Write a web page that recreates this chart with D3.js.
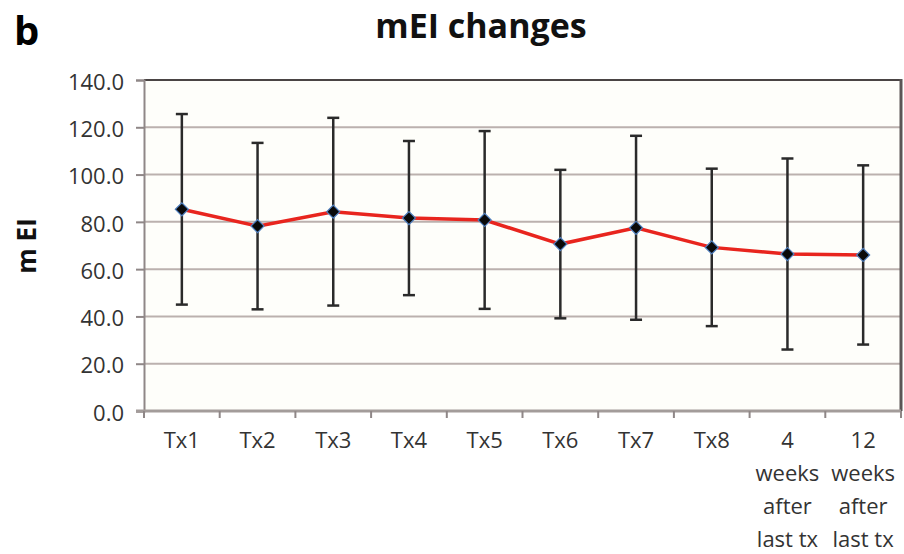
<!DOCTYPE html>
<html><head><meta charset="utf-8">
<script src="https://cdn.jsdelivr.net/npm/d3@7"></script>
<style>body{margin:0;background:#fff}svg{display:block}</style>
</head><body>
<svg id="c" width="904" height="554"></svg>
<script>
const categories = ["Tx1","Tx2","Tx3","Tx4","Tx5","Tx6","Tx7","Tx8","4 weeks after last tx","12 weeks after last tx"];
const labelLines = [["Tx1"],["Tx2"],["Tx3"],["Tx4"],["Tx5"],["Tx6"],["Tx7"],["Tx8"],["4","weeks","after","last tx"],["12","weeks","after","last tx"]];
const means = [85.3, 78.2, 84.3, 81.6, 80.8, 70.6, 77.5, 69.2, 66.4, 66.0];
const sds   = [40.3, 35.2, 39.7, 32.6, 37.6, 31.4, 38.9, 33.3, 40.4, 37.9];
const yTicks = [0, 20, 40, 60, 80, 100, 120, 140];
const title = "mEI changes";
const yLabel = "m EI";
const panel = "b";

const svg = d3.select("#c");
const L = 144, R = 901, T = 80, B = 411;
const font = "'Open Sans', 'Liberation Sans', sans-serif";

const x = d3.scaleBand().domain(categories).range([L, R]).paddingInner(0).paddingOuter(0);
const y = d3.scaleLinear().domain([0, 140]).range([B, T]);

// plot background
svg.append("rect").attr("x", L).attr("y", T).attr("width", R - L).attr("height", B - T).attr("fill", "#fefefa");

// gridlines
svg.append("g").selectAll("line").data(yTicks.filter(d => d > 0 && d < 140)).join("line")
  .attr("x1", L).attr("x2", R).attr("y1", d => y(d)).attr("y2", d => y(d))
  .attr("stroke", "#bbb1ae").attr("stroke-width", 2);
// top border
svg.append("line").attr("x1", L).attr("x2", R).attr("y1", y(140)).attr("y2", y(140))
  .attr("stroke", "#4a4444").attr("stroke-width", 2);
// right border
svg.append("line").attr("x1", R).attr("x2", R).attr("y1", T - 1).attr("y2", B)
  .attr("stroke", "#5a5555").attr("stroke-width", 3);

// y axis
const yAxis = d3.axisLeft(y).tickValues(yTicks).tickFormat(d3.format(".1f")).tickSize(8).tickPadding(12);
const gy = svg.append("g").attr("transform", `translate(${L},0)`).call(yAxis);
gy.select(".domain").attr("stroke", "#8f8787").attr("stroke-width", 2);
gy.selectAll(".tick line").attr("stroke", "#8f8787").attr("stroke-width", 2);
gy.selectAll(".tick text").attr("font-family", font).attr("font-size", 22).attr("fill", "#333").attr("dy", "0.42em");

// x axis baseline
svg.append("line").attr("x1", L - 8).attr("x2", R).attr("y1", B).attr("y2", B)
  .attr("stroke", "#a39c9a").attr("stroke-width", 3);
// boundary ticks
const bounds = categories.map(c => x(c)).concat([R]);
svg.append("g").selectAll("line").data(bounds).join("line")
  .attr("x1", d => d).attr("x2", d => d).attr("y1", B).attr("y2", B + 7)
  .attr("stroke", "#8f8787").attr("stroke-width", 2);

// x labels
const xl = svg.append("g").selectAll("text").data(categories).join("text")
  .attr("x", d => x(d) + x.bandwidth() / 2).attr("y", 448)
  .attr("text-anchor", "middle").attr("font-family", font).attr("font-size", 22).attr("fill", "#333");
xl.each(function(d, i) {
  const t = d3.select(this);
  labelLines[i].forEach((ln, j) => {
    t.append("tspan").attr("x", x(d) + x.bandwidth() / 2).attr("dy", j === 0 ? 0 : 33).text(ln);
  });
});

// error bars
const cx = (d, i) => x(categories[i]) + x.bandwidth() / 2;
const eb = svg.append("g").attr("stroke", "#2a2a2a").attr("stroke-width", 2.5);
means.forEach((m, i) => {
  const xc = x(categories[i]) + x.bandwidth() / 2;
  eb.append("line").attr("x1", xc).attr("x2", xc).attr("y1", y(m + sds[i])).attr("y2", y(m - sds[i]));
  eb.append("line").attr("x1", xc - 6).attr("x2", xc + 6).attr("y1", y(m + sds[i])).attr("y2", y(m + sds[i]));
  eb.append("line").attr("x1", xc - 6).attr("x2", xc + 6).attr("y1", y(m - sds[i])).attr("y2", y(m - sds[i]));
});

// line
const line = d3.line().x((d, i) => cx(d, i)).y(d => y(d));
svg.append("path").datum(means).attr("d", line).attr("fill", "none")
  .attr("stroke", "#e8251e").attr("stroke-width", 3.5);

// markers (square rotated 45deg)
const marker = d3.symbol().type(d3.symbolSquare).size(85);
svg.append("g").selectAll("path").data(means).join("path")
  .attr("d", marker)
  .attr("transform", (d, i) => `translate(${cx(d, i)},${y(d)}) rotate(45)`)
  .attr("fill", "#0a0a0a").attr("stroke", "#4f7fbf").attr("stroke-width", 1.2);

// title
svg.append("text").attr("x", 481).attr("y", 38).attr("text-anchor", "middle")
  .attr("font-family", font).attr("font-weight", "bold").attr("font-size", 34).attr("fill", "#111").text(title);
svg.append("text").attr("x", 14).attr("y", 45)
  .attr("font-family", font).attr("font-weight", "bold").attr("font-size", 40).attr("fill", "#000").text(panel);
// y label
svg.append("text").attr("transform", "translate(36,246) rotate(-90)").attr("text-anchor", "middle")
  .attr("font-family", font).attr("font-weight", "bold").attr("font-size", 26).attr("fill", "#111").text(yLabel);
</script>
</body></html>
